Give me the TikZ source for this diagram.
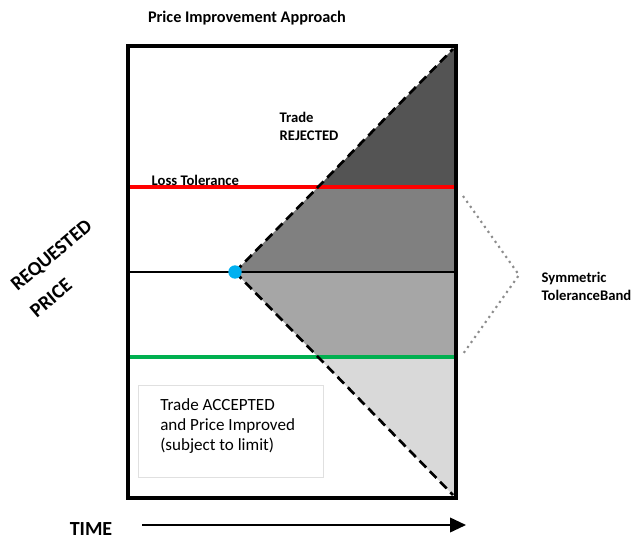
\documentclass[tikz,border=0pt]{standalone}
\usepackage{fontspec}
\setmainfont{Carlito}
\usetikzlibrary{positioning,arrows.meta}
\definecolor{dotblue}{HTML}{00B0F0}
\definecolor{lossred}{HTML}{FF0000}
\definecolor{gaingreen}{HTML}{00B050}
\begin{document}
\begin{tikzpicture}[x=0.75pt,y=-0.75pt,
    frameline/.style={line width=3.6pt,line join=miter},
    levelline/.style={line width=2.8pt},
    pathline/.style={line width=2pt,dash pattern=on 7pt off 4pt},
    bandline/.style={line width=1.6pt,black!45,dash pattern=on 1.6pt off 3pt},
    smalltext/.style={font=\bfseries\fontsize{11}{13.5}\selectfont,align=left},
    bigtext/.style={font=\fontsize{12.8}{15}\selectfont,align=left},
    axistext/.style={font=\bfseries\fontsize{15}{17}\selectfont,inner sep=0pt}]
  \useasboundingbox (0,0) rectangle (643,539);

  % frame and levels
  \coordinate (tl) at (128,46);
  \coordinate (br) at (456,498);
  \coordinate (tr) at (456,46);
  \coordinate (redL) at (128,187);  \coordinate (redR) at (456,187);
  \coordinate (midL) at (128,272);  \coordinate (midR) at (456,272);
  \coordinate (grnL) at (128,357);  \coordinate (grnR) at (456,357);
  \coordinate (start) at (235,272);
  \coordinate (top) at (453,49);
  \coordinate (bot) at (453,495);
  \coordinate (redX) at (intersection of start--top and redL--redR);
  \coordinate (grnX) at (intersection of start--bot and grnL--grnR);

  % shaded bands
  \fill[black!67] (redX) -- (top) -- (tr) -- (redR) -- cycle;
  \fill[black!50] (start) -- (redX) -- (redR) -- (midR) -- cycle;
  \fill[black!35] (start) -- (midR) -- (grnR) -- (grnX) -- cycle;
  \fill[black!15] (grnX) -- (grnR) -- (br) -- (bot) -- cycle;

  \draw[levelline,lossred] (redL) -- (redR);
  \draw[line width=1pt] (midL) -- (midR);
  \draw[levelline,gaingreen] (grnL) -- (grnR);
  \draw[pathline] (start) -- (top);
  \draw[pathline] (start) -- (bot);
  \node[circle,fill=dotblue,inner sep=0pt,minimum size=10pt] (entry) at (start) {};
  \draw[frameline] (tl) rectangle (br);

  % labels
  \node[font=\bfseries\fontsize{12.2}{14}\selectfont] (title) at (247,18) {Price Improvement Approach};
  \node[smalltext,anchor=west] (loss) at (147,180) {Loss Tolerance};
  \node[smalltext,anchor=west] (rejected) at (275,126) {Trade\\REJECTED};
  \node[smalltext,anchor=west] (band) at (537,286) {Symmetric\\ToleranceBand};
  \node[draw=black!12,fill=white,anchor=north west,minimum width=139pt,
        minimum height=69pt] (accbox) at (138,385) {};
  \node[bigtext,inner sep=0pt,below right=10pt and 16.5pt of accbox.north west,anchor=north west]
        (accepted) {Trade ACCEPTED\\and Price Improved\\(subject to limit)};

  % tolerance band bracket
  \coordinate (bandTop) at (463,196);
  \coordinate (bandTip) at (519,275);
  \coordinate (bandBot) at (463,354);
  \draw[bandline] (bandTop) -- (bandTip) -- (bandBot);

  % axes
  \node[axistext,rotate=40] (reqA) at (52,256) {REQUESTED};
  \node[axistext,rotate=40] (reqB) at (51,298) {PRICE};
  \node[axistext,anchor=base] (time) at (91,535) {TIME};
  \coordinate (tStart) at (142,525);
  \coordinate (tEnd) at (466,525);
  \draw[line width=1.3pt,-{Triangle[length=12pt,width=11pt]}] (tStart) -- (tEnd);
\end{tikzpicture}
\end{document}
